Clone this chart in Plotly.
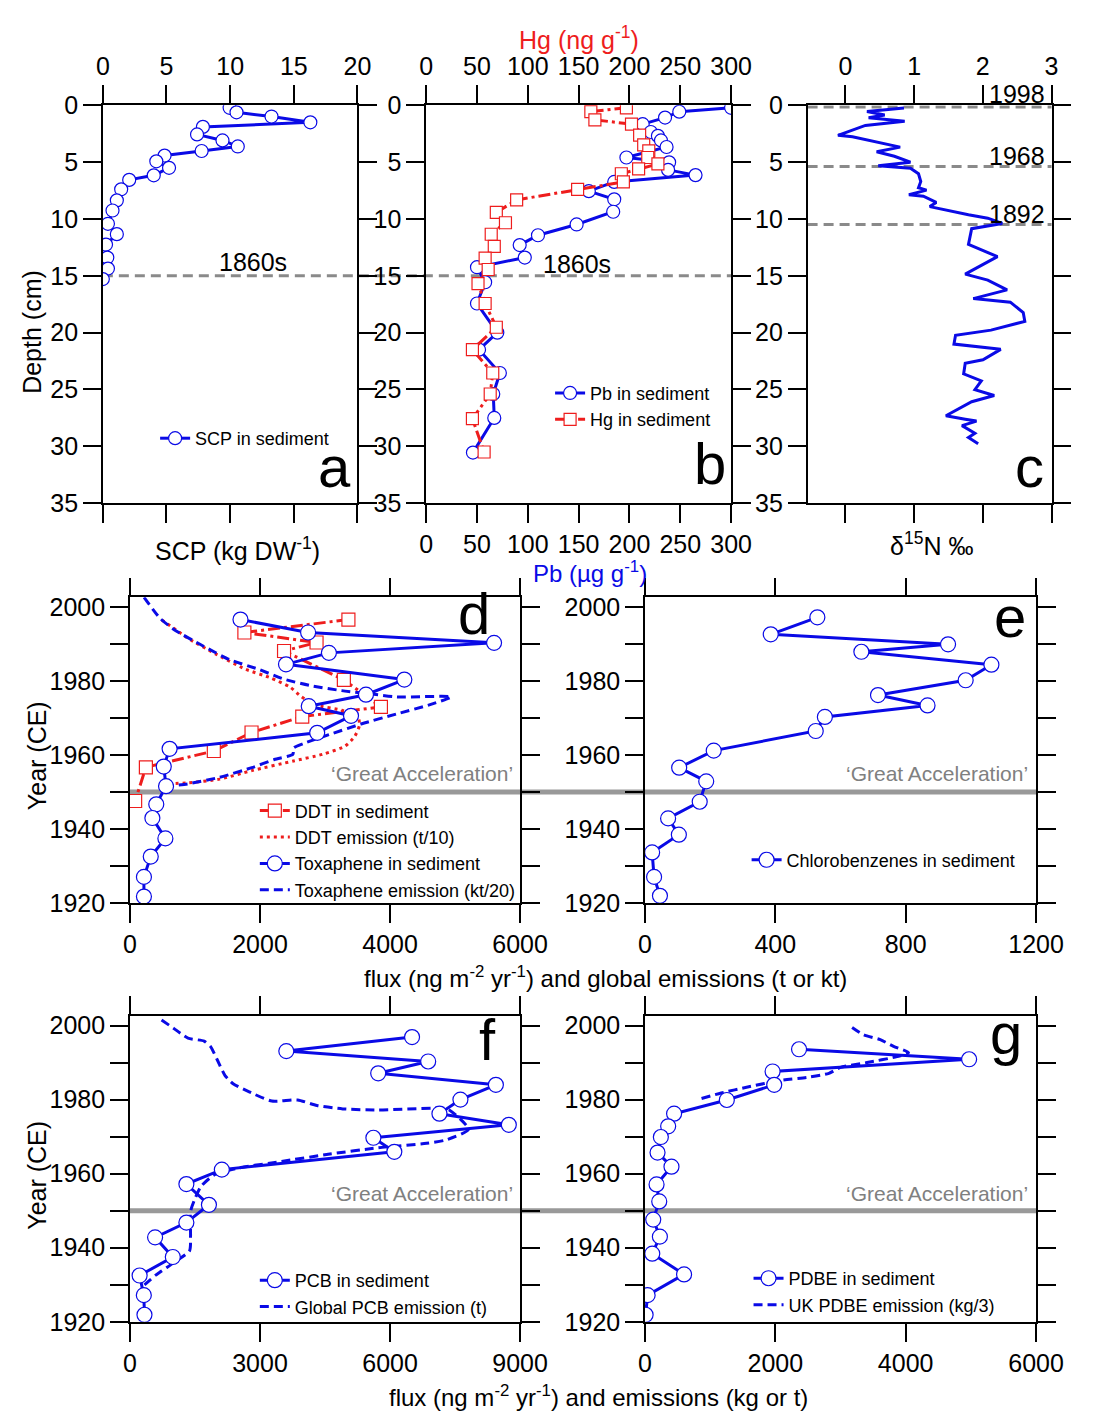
import plotly.graph_objects as go

W, H = 1096, 1426
def px(x): return x / W
def py(y): return 1 - y / H

# ---------------- data ----------------
# (a) SCP
scp_depth = [0.23, 0.63, 1.0, 1.51, 1.91, 2.57, 3.1, 3.63, 4.03, 4.43, 4.94, 5.51, 6.17, 6.57, 7.4, 8.37, 9.26, 10.43, 11.34, 12.26, 13.4, 14.37, 15.29]
scp_val = [9.96, 10.5, 13.25, 16.3, 7.86, 7.4, 9.4, 10.6, 7.76, 4.85, 4.2, 5.2, 4.0, 2.07, 1.44, 1.1, 0.76, 0.4, 1.1, 0.25, 0.35, 0.4, 0.0]

# (b) Pb and Hg
pb_depth = [0.23, 0.57, 1.09, 1.67, 2.36, 2.7, 3.1, 3.68, 4.6, 5.03, 5.69, 6.15, 6.75, 7.56, 8.28, 9.37, 10.49, 11.44, 12.3, 13.4, 14.25, 15.57, 17.44, 20.0, 21.5, 23.55, 25.4, 27.5, 30.55]
pb_val = [300, 249, 235, 213, 221, 228, 231, 236.5, 197, 239, 238, 265, 185, 160, 185, 184, 148, 110, 92, 97, 50, 58, 50, 70, 52, 72.5, 66, 67, 46]
hg_depth = [0.23, 0.57, 1.29, 1.67, 2.64, 3.5, 4.02, 4.6, 5.17, 5.6, 6.03, 6.75, 7.41, 8.33, 9.43, 10.34, 11.35, 12.41, 13.45, 14.45, 15.7, 17.44, 19.53, 21.5, 23.55, 25.4, 27.57, 30.5]
hg_val = [197, 162, 166, 202, 210, 214, 219, 218, 228, 209, 192, 194, 149, 89, 69, 78, 64, 67, 58, 61, 51, 58, 69, 45.5, 65.5, 63, 45.5, 57]

# (c) d15N
n15_depth = [0.25, 0.55, 0.86, 1.11, 1.41, 1.78, 2.65, 2.77, 3.69, 4.09, 4.49, 5.01, 5.32, 5.54, 6.03, 6.71, 7.26, 7.47, 7.87, 8.0, 8.55, 8.92, 9.63, 9.94, 10.4, 10.86, 12.24, 13.32, 13.93, 14.86, 15.38, 16.24, 17.01, 17.32, 18.24, 19.01, 19.78, 20.24, 21.01, 21.47, 22.39, 22.7, 23.62, 24.24, 25.01, 25.53, 26.08, 27.31, 27.62, 27.78, 28.18, 28.85, 29.22, 29.78]
n15_val = [0.853, 0.314, 0.572, 0.338, 0.863, 0.291, -0.108, 0.103, 0.797, 0.455, 0.713, 0.947, 0.478, 0.947, 1.064, 1.097, 1.064, 1.181, 0.924, 1.135, 1.322, 1.228, 1.791, 2.072, 2.283, 1.838, 1.791, 2.213, 2.025, 1.744, 2.072, 2.353, 1.861, 2.4, 2.588, 2.611, 2.119, 1.603, 1.58, 2.26, 2.002, 1.744, 1.721, 1.978, 1.885, 2.166, 1.838, 1.463, 1.744, 1.908, 1.697, 1.885, 1.791, 1.932]
n15_lines = [0.15, 5.4, 10.5]
n15_line_labels = ["1998", "1968", "1892"]

# (d) DDT and toxaphene
tox_year = [1996.6, 1993.1, 1990.3, 1987.6, 1984.5, 1980.4, 1976.3, 1973.2, 1970.6, 1966.0, 1961.7, 1956.9, 1951.6, 1946.7, 1943.0, 1937.5, 1932.6, 1927.1, 1921.8]
tox_val = [1700, 2740, 5600, 3060, 2400, 4220, 3630, 2750, 3400, 2880, 610, 520, 555, 405, 345, 545, 320, 215, 215]
ddt_year = [1996.6, 1993.1, 1990.4, 1988.1, 1980.3, 1973.0, 1970.4, 1966.1, 1961.1, 1956.7, 1947.6]
ddt_val = [3360, 1760, 2870, 2370, 3290, 3860, 2650, 1870, 1290, 245, 80]
ddt_em_year = [1996.5, 1993.8, 1991.6, 1987.2, 1983.2, 1980.8, 1978.3, 1975.7, 1973.5, 1972.1, 1970.4, 1968.1, 1965.0, 1962.4, 1960.2, 1958.4, 1955.8, 1953.5, 1952.5, 1952.2]
ddt_em_val = [489, 712, 885, 1330, 1775, 2170, 2467, 2640, 2863, 3258, 3505, 3530, 3456, 3308, 2962, 2516, 1874, 1379, 885, 539]
tox_em_year = [2002.6, 1996.9, 1993.8, 1989.4, 1985.8, 1983.2, 1980.5, 1978.8, 1977.4, 1976.4, 1975.7, 1975.7, 1973.5, 1971.1, 1968.4, 1965.5, 1963.1, 1961.9, 1960.2, 1958.8, 1956.6, 1954.0, 1952.2, 1951.6]
tox_em_val = [217, 465, 687, 1132, 1528, 1973, 2368, 2764, 3258, 3753, 4099, 4939, 4593, 4099, 3555, 3060, 2665, 2516, 2506, 2220, 1874, 1379, 885, 588]

# (e) chlorobenzenes
cb_year = [1997.2, 1992.6, 1989.9, 1987.9, 1984.4, 1980.2, 1976.2, 1973.4, 1970.3, 1966.5, 1961.2, 1956.6, 1952.9, 1947.4, 1942.9, 1938.5, 1933.7, 1927.1, 1922.0]
cb_val = [529, 386, 930, 664, 1063, 984, 715, 867, 552, 524, 211, 105, 188, 168, 71, 104, 22, 28, 46]

# (f) PCB
pcb_year = [1996.9, 1993.1, 1990.3, 1987.1, 1984.0, 1980.0, 1976.2, 1973.2, 1969.7, 1965.9, 1961.1, 1957.2, 1951.6, 1946.8, 1942.8, 1937.5, 1932.5, 1927.2, 1921.9]
pcb_val = [6508, 3607, 6880, 5727, 8442, 7624, 7140, 8740, 5616, 6099, 2120, 1302, 1822, 1302, 580, 989, 223, 320, 335]
pcb_em_year = [2001.5, 1999.3, 1996.6, 1995.8, 1994.3, 1990.9, 1986.5, 1984.3, 1982.1, 1979.6, 1979.9, 1978.4, 1977.5, 1977.2, 1977.7, 1977.5, 1972.0, 1969.1, 1968.2, 1967.0, 1965.3, 1963.3, 1961.6, 1959.6, 1956.5, 1952.9, 1949.8, 1943.2, 1939.2, 1936.2, 1932.6, 1930.0]
pcb_em_val = [729, 1004, 1339, 1711, 1860, 2008, 2194, 2380, 2752, 3273, 3868, 4314, 4909, 5727, 6992, 7326, 7810, 7289, 6843, 5727, 4612, 3496, 2529, 1934, 1636, 1488, 1398, 1398, 1376, 1041, 595, 335]

# (g) PDBE
pdbe_year = [1993.6, 1990.9, 1987.6, 1984.0, 1979.9, 1976.2, 1972.8, 1969.9, 1965.7, 1961.9, 1957.1, 1952.5, 1947.6, 1943.0, 1938.4, 1932.8, 1927.2, 1921.9]
pdbe_val = [2364, 4973, 1958, 1983, 1256, 447, 356, 244, 193, 407, 178, 219, 127, 229, 112, 600, 41, 10]
pdbe_em_year = [1999.5, 1997.5, 1996.2, 1994.4, 1992.7, 1991.6, 1990.0, 1988.7, 1987.1, 1986.0, 1985.2, 1983.4, 1981.8, 1980.3]
pdbe_em_val = [3178, 3356, 3610, 3814, 4043, 3865, 3407, 3000, 2822, 2492, 2085, 1576, 1170, 864]

great_acc_year = 1950
scp_1860_depth = 15

# ---------------- styling ----------------
BLUE = "#0a0ae6"
RED = "#ee1d1d"
GRAY = "#8a8a8a"
FONT = "Liberation Sans, Arial, sans-serif"
TICKSIZE = 25

fig = go.Figure()

def circ(size):
    return dict(symbol="circle", size=size, color="white", line=dict(color=BLUE, width=1.2))

def sq(size):
    return dict(symbol="square", size=size, color="white", line=dict(color=RED, width=1.2))

# (a)
fig.add_trace(go.Scatter(x=scp_val, y=scp_depth, xaxis="x", yaxis="y", mode="lines+markers",
                         line=dict(color=BLUE, width=3), marker=circ(13), name="SCP in sediment", legend="legend"))
# (b)
fig.add_trace(go.Scatter(x=pb_val, y=pb_depth, xaxis="x2", yaxis="y2", mode="lines+markers",
                         line=dict(color=BLUE, width=3), marker=circ(13), name="Pb in sediment", legend="legend2"))
fig.add_trace(go.Scatter(x=hg_val, y=hg_depth, xaxis="x3", yaxis="y2", mode="lines+markers",
                         line=dict(color=RED, width=3, dash="12px,4px,3px,4px"), marker=sq(12), name="Hg in sediment", legend="legend2"))
# (c)
fig.add_trace(go.Scatter(x=n15_val, y=n15_depth, xaxis="x4", yaxis="y3", mode="lines",
                         line=dict(color=BLUE, width=3), showlegend=False))
# (d)
fig.add_trace(go.Scatter(x=ddt_em_val, y=ddt_em_year, xaxis="x5", yaxis="y4", mode="lines",
                         line=dict(color=RED, width=3, dash="3px,4px", shape="spline", smoothing=0.6),
                         name="DDT emission (t/10)", legend="legend3", legendrank=2))
fig.add_trace(go.Scatter(x=tox_em_val, y=tox_em_year, xaxis="x5", yaxis="y4", mode="lines",
                         line=dict(color=BLUE, width=3, dash="9px,5px", shape="spline", smoothing=0.6),
                         name="Toxaphene emission (kt/20)", legend="legend3", legendrank=4))
fig.add_trace(go.Scatter(x=ddt_val, y=ddt_year, xaxis="x5", yaxis="y4", mode="lines+markers",
                         line=dict(color=RED, width=3, dash="12px,4px,3px,4px"), marker=sq(13),
                         name="DDT in sediment", legend="legend3", legendrank=1))
fig.add_trace(go.Scatter(x=tox_val, y=tox_year, xaxis="x5", yaxis="y4", mode="lines+markers",
                         line=dict(color=BLUE, width=3), marker=circ(15),
                         name="Toxaphene in sediment", legend="legend3", legendrank=3))
# (e)
fig.add_trace(go.Scatter(x=cb_val, y=cb_year, xaxis="x6", yaxis="y5", mode="lines+markers",
                         line=dict(color=BLUE, width=3), marker=circ(15),
                         name="Chlorobenzenes in sediment", legend="legend4"))
# (f)
fig.add_trace(go.Scatter(x=pcb_em_val, y=pcb_em_year, xaxis="x7", yaxis="y6", mode="lines",
                         line=dict(color=BLUE, width=3, dash="9px,5px", shape="spline", smoothing=0.6),
                         name="Global PCB emission (t)", legend="legend5", legendrank=2))
fig.add_trace(go.Scatter(x=pcb_val, y=pcb_year, xaxis="x7", yaxis="y6", mode="lines+markers",
                         line=dict(color=BLUE, width=3), marker=circ(15),
                         name="PCB in sediment", legend="legend5", legendrank=1))
# (g)
fig.add_trace(go.Scatter(x=pdbe_em_val, y=pdbe_em_year, xaxis="x8", yaxis="y7", mode="lines",
                         line=dict(color=BLUE, width=3, dash="9px,5px", shape="spline", smoothing=0.6),
                         name="UK PDBE emission (kg/3)", legend="legend6", legendrank=2))
fig.add_trace(go.Scatter(x=pdbe_val, y=pdbe_year, xaxis="x8", yaxis="y7", mode="lines+markers",
                         line=dict(color=BLUE, width=3), marker=circ(15),
                         name="PDBE in sediment", legend="legend6", legendrank=1))

ax = dict(showline=True, linecolor="black", linewidth=1.5, ticks="outside", ticklen=18, tickwidth=1.5,
          tickcolor="black", mirror="allticks", showgrid=False, zeroline=False,
          tickfont=dict(family=FONT, size=TICKSIZE, color="black"), fixedrange=True)

row1 = [py(499), py(93)]
row2 = [py(907), py(595)]
row3 = [py(1334), py(1022)]
depth_ticks = dict(range=[35, 0], tickvals=[0, 5, 10, 15, 20, 25, 30, 35])
year_ticks = dict(range=[1920, 2002.6], tickmode="linear", tick0=1920, dtick=10, ticklabelstep=2)

fig.update_layout(
    xaxis=dict(ax, domain=[px(99), px(362)], range=[0, 20], tickvals=[0, 5, 10, 15, 20], side="top", anchor="y"),
    yaxis=dict(ax, domain=row1, anchor="x", **depth_ticks),
    xaxis2=dict(ax, domain=[px(433), px(748)], range=[0, 300], tickvals=list(range(0, 301, 50)), side="bottom", anchor="y2", mirror=True),
    xaxis3=dict(ax, range=[0, 300], tickvals=list(range(0, 301, 50)), side="top", overlaying="x2", anchor="y2", mirror=False),
    yaxis2=dict(ax, domain=row1, anchor="x2", **depth_ticks),
    xaxis4=dict(ax, domain=[px(827), px(1079)], range=[-0.55, 3], tickvals=[0, 1, 2, 3], side="top", anchor="y3"),
    yaxis3=dict(ax, domain=row1, anchor="x4", **depth_ticks),
    xaxis5=dict(ax, domain=[px(127), px(530)], range=[0, 6000], tickvals=[0, 2000, 4000, 6000], anchor="y4"),
    yaxis4=dict(ax, domain=row2, anchor="x5", **year_ticks),
    xaxis6=dict(ax, domain=[px(659), px(1063)], range=[0, 1200], tickvals=[0, 400, 800, 1200], anchor="y5"),
    yaxis5=dict(ax, domain=row2, anchor="x6", **year_ticks),
    xaxis7=dict(ax, domain=[px(127), px(530)], range=[0, 9000], tickvals=[0, 3000, 6000, 9000], anchor="y6"),
    yaxis6=dict(ax, domain=row3, anchor="x7", **year_ticks),
    xaxis8=dict(ax, domain=[px(659), px(1063)], range=[0, 6000], tickvals=[0, 2000, 4000, 6000], anchor="y7"),
    yaxis7=dict(ax, domain=row3, anchor="x8", **year_ticks),
)

# reference lines
shapes = []
shapes.append(dict(type="line", xref="paper", yref="y", x0=px(99), x1=px(748), y0=scp_1860_depth, y1=scp_1860_depth,
                   line=dict(color=GRAY, width=3, dash="10px,6px"), layer="below"))
for d in n15_lines:
    shapes.append(dict(type="line", xref="paper", yref="y3", x0=px(827), x1=px(1079), y0=d, y1=d,
                       line=dict(color=GRAY, width=3, dash="10px,6px"), layer="below"))
for yr in ["y4", "y6"]:
    shapes.append(dict(type="line", xref="paper", yref=yr, x0=px(127), x1=px(1063), y0=great_acc_year, y1=great_acc_year,
                       line=dict(color="#999999", width=5), layer="below"))
fig.update_layout(shapes=shapes)

ann = []
def text(x, y, s, size=25, color="black", xanchor="center", yanchor="middle", angle=0):
    ann.append(dict(x=px(x), y=py(y), xref="paper", yref="paper", text=s, showarrow=False, xanchor=xanchor,
                    yanchor=yanchor, textangle=angle, font=dict(family=FONT, size=size, color=color)))

text(591, 24, "Hg (ng g<sup>-1</sup>)", color=RED)
text(602, 569, "Pb (µg g<sup>-1</sup>)", size=24, color=BLUE)
text(238, 546, "SCP (kg DW<sup>-1</sup>)")
text(955, 541, "δ<sup>15</sup>N ‰")
text(25, 324, "Depth (cm)", angle=-90)
text(31, 757, "Year (CE)", angle=-90)
text(31, 1185, "Year (CE)", angle=-90)
text(618, 982, "flux (ng m<sup>-2</sup> yr<sup>-1</sup>) and global emissions (t or kt)", size=24)
text(611, 1410, "flux (ng m<sup>-2</sup> yr<sup>-1</sup>) and emissions (kg or t)", size=24)
text(254, 253, "1860s")
text(589, 255, "1860s")
for lab, yy in zip(n15_line_labels, [82, 145, 204]):
    text(1074, yy, lab, xanchor="right")
for lab, xx, yy in [("a", 338, 462), ("b", 726, 458), ("c", 1056, 462), ("d", 482, 612), ("e", 1036, 615), ("f", 496, 1046), ("g", 1032, 1040)]:
    text(xx, yy, lab, size=58)
for xx, yy in [(525, 775), (1057, 775), (525, 1203), (1057, 1203)]:
    text(xx, yy, "‘Great Acceleration’", size=21, color="#808080", xanchor="right")
fig.update_layout(annotations=ann)

leg = dict(bgcolor="rgba(0,0,0,0)", borderwidth=0, font=dict(family=FONT, size=18, color="black"),
           xanchor="left", tracegroupgap=0, itemclick=False, itemdoubleclick=False)
fig.update_layout(
    legend=dict(leg, x=px(195 - 42), y=py(433), yanchor="middle"),
    legend2=dict(leg, x=px(603 - 42), y=py(368), yanchor="top"),
    legend3=dict(leg, x=px(298 - 42), y=py(794), yanchor="top"),
    legend4=dict(leg, x=px(806 - 42), y=py(863), yanchor="middle"),
    legend5=dict(leg, x=px(298 - 42), y=py(1273), yanchor="top"),
    legend6=dict(leg, x=px(808 - 42), y=py(1271), yanchor="top"),
)

fig.update_layout(width=W, height=H, margin=dict(l=0, r=0, t=0, b=0), plot_bgcolor="white", paper_bgcolor="white",
                  font=dict(family=FONT, size=18, color="black"))

fig.write_html("out.html", config={"displayModeBar": False},
               post_script="document.body.style.margin='0px';document.body.style.padding='0px';")
